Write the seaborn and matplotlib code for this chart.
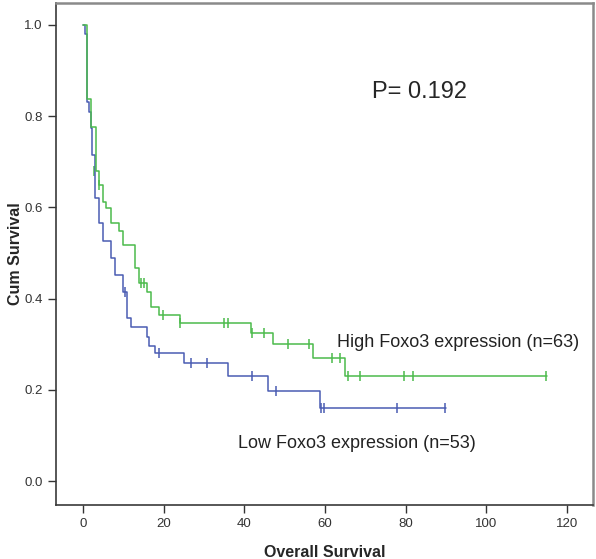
import matplotlib
matplotlib.use("Agg")
import matplotlib.pyplot as plt
import seaborn as sns
import pandas as pd

# Kaplan-Meier steps
low_t = [0, 0.5, 0.9, 1.5, 1.9, 2.3, 3.0, 4.0, 4.9, 6.9, 8.0, 10.0, 11.0, 11.9,
         15.9, 16.4, 17.9, 25.0, 36.0, 45.9, 58.8, 90]
low_s = [1.0, 0.981, 0.83, 0.81, 0.774, 0.715, 0.62, 0.565, 0.527, 0.488, 0.452,
         0.415, 0.357, 0.338, 0.316, 0.297, 0.280, 0.258, 0.231, 0.198, 0.159, 0.159]
low_cens_t = [10.5, 18.9, 26.9, 30.8, 41.9, 47.8, 59.0, 59.7, 77.9, 89.8]
low_cens_s = [0.415, 0.280, 0.258, 0.258, 0.231, 0.198, 0.159, 0.159, 0.159, 0.159]

high_t = [0, 0.9, 2.0, 3.1, 4.0, 4.85, 5.8, 6.9, 9.0, 10.0, 13.0, 13.9, 15.9, 16.8,
          18.9, 24.0, 41.7, 47.1, 57.0, 64.9, 115]
high_s = [1.0, 0.838, 0.776, 0.68, 0.649, 0.612, 0.598, 0.566, 0.549, 0.517, 0.466,
          0.434, 0.415, 0.382, 0.364, 0.346, 0.324, 0.300, 0.269, 0.230, 0.230]
high_cens_t = [2.6, 4.0, 14.5, 15.2, 19.9, 24.0, 34.9, 36.0, 42.0, 45.0, 50.8, 56.0,
               61.8, 63.8, 65.8, 68.8, 79.7, 81.8, 114.8]
high_cens_s = [0.68, 0.649, 0.434, 0.434, 0.364, 0.346, 0.346, 0.346, 0.324, 0.324,
               0.300, 0.300, 0.269, 0.269, 0.230, 0.230, 0.230, 0.230, 0.230]

x_ticks = [0, 20, 40, 60, 80, 100, 120]
y_ticks = [0.0, 0.2, 0.4, 0.6, 0.8, 1.0]

blue = "#4a5cb3"
green = "#4cbb4c"

sns.set_style("white")
plt.rcParams["font.family"] = ["Liberation Sans", "DejaVu Sans"]

fig = plt.figure(figsize=(5.96, 5.59), dpi=100)
ax = fig.add_axes([0.094, 0.0966, 0.901, 0.898])

low = pd.DataFrame({"t": low_t, "s": low_s})
high = pd.DataFrame({"t": high_t, "s": high_s})
sns.lineplot(data=low, x="t", y="s", ax=ax, color=blue, lw=1.1,
             drawstyle="steps-post", estimator=None, sort=False)
sns.lineplot(data=high, x="t", y="s", ax=ax, color=green, lw=1.1,
             drawstyle="steps-post", estimator=None, sort=False)

sns.scatterplot(x=low_cens_t, y=low_cens_s, ax=ax, marker="|", color=blue,
                s=45, linewidth=1.1)
sns.scatterplot(x=high_cens_t, y=high_cens_s, ax=ax, marker="|", color=green,
                s=45, linewidth=1.1)

ax.set_xlim(-6.7, 126.5)
ax.set_ylim(-0.0526, 1.048)
ax.set_xticks(x_ticks)
ax.set_yticks(y_ticks)
ax.set_yticklabels([f"{v:.1f}" for v in y_ticks])
ax.tick_params(axis="both", direction="out", length=6, width=1, colors="#333333",
               labelsize=9.5, bottom=True, left=True)

for side in ["left", "bottom"]:
    ax.spines[side].set_color("#3a3a3a")
    ax.spines[side].set_linewidth(1.2)
for side in ["top", "right"]:
    ax.spines[side].set_color("#8a8a8a")
    ax.spines[side].set_linewidth(1.8)

ax.set_xlabel("Overall Survival", fontsize=11.5, fontweight="bold", va="center")
ax.set_ylabel("Cum Survival", fontsize=11.5, fontweight="bold", va="center")
ax.xaxis.set_label_coords(0.5, -0.094)
ax.yaxis.set_label_coords(-0.075, 0.5)

ax.text(71.8, 0.853, "P= 0.192", fontsize=17, va="center", ha="left")
ax.text(63.1, 0.303, "High Foxo3 expression (n=63)", fontsize=13, va="center",
        ha="left", color="#222222")
ax.text(38.4, 0.083, "Low Foxo3 expression (n=53)", fontsize=13, va="center",
        ha="left", color="#222222")

fig.savefig("out.png", dpi=100)
